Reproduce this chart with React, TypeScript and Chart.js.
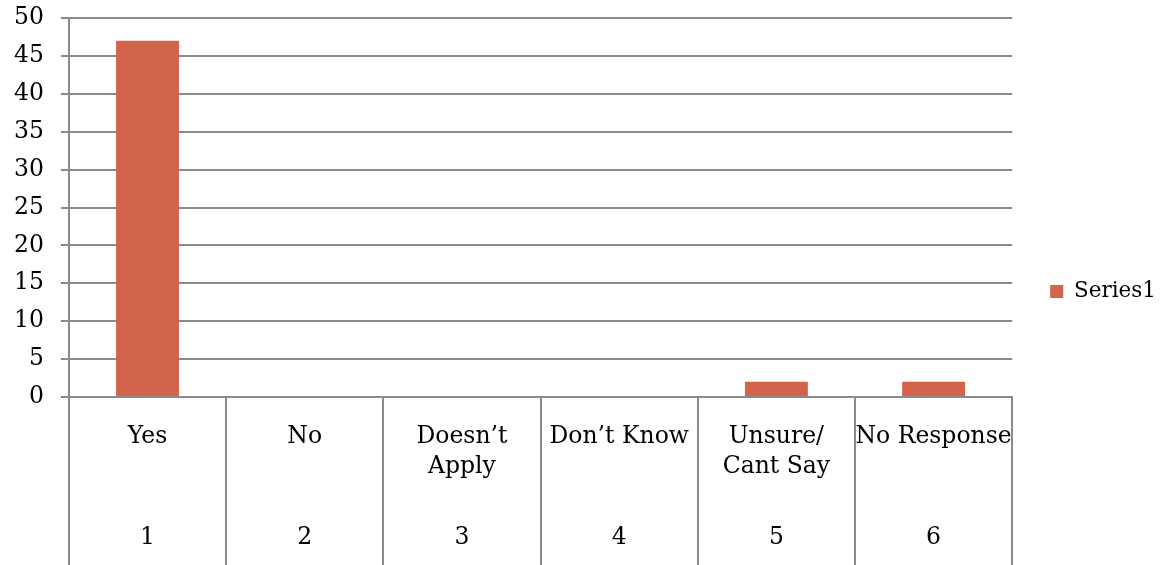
import React, { useEffect, useRef } from "react";
import { Chart, registerables } from "chart.js";

Chart.register(...registerables);

const categoryLines: string[][] = [
  ["Yes"],
  ["No"],
  ["Doesn’t", "Apply"],
  ["Don’t Know"],
  ["Unsure/", "Cant Say"],
  ["No Response"],
];
const categoryNumbers: string[] = ["1", "2", "3", "4", "5", "6"];
const series1: number[] = [47, 0, 0, 0, 2, 2];
const seriesName = "Series1";

const FONT = "'DejaVu Serif', serif";
const FSIZE = 23.5;
const GRID = "#8a8a8a";
const BAR = "rgb(209,100,74)";

const twoLevelLabels = {
  id: "twoLevelLabels",
  afterDraw(chart: any) {
    const x = chart.scales.x;
    const ctx = chart.ctx;
    const top = chart.chartArea.bottom;
    ctx.save();
    ctx.fillStyle = "#000";
    ctx.font = `${FSIZE}px ${FONT}`;
    ctx.textAlign = "center";
    ctx.textBaseline = "middle";
    categoryLines.forEach((lines, i) => {
      const px = x.getPixelForValue(i);
      lines.forEach((ln, j) => {
        ctx.fillText(ln, px, top + 40 + j * 30);
      });
      ctx.fillText(categoryNumbers[i], px, top + 141);
    });
    ctx.restore();
  },
};

export default function App() {
  const ref = useRef<HTMLCanvasElement>(null);
  useEffect(() => {
    if (!ref.current) return;
    const chart = new Chart(ref.current, {
      type: "bar",
      data: {
        labels: categoryLines.map((l) => l.join(" ")),
        datasets: [
          {
            label: seriesName,
            data: series1,
            backgroundColor: BAR,
            borderWidth: 0,
            barPercentage: 0.4,
            categoryPercentage: 1,
          },
        ],
      },
      options: {
        animation: false,
        responsive: true,
        maintainAspectRatio: false,
        layout: { padding: { left: -3, right: 3, top: 18, bottom: 0 } },
        plugins: {
          tooltip: { enabled: false },
          legend: {
            position: "right",
            align: "center",
            labels: {
              color: "#000",
              font: { family: FONT, size: 21.5 },
              boxWidth: 13,
              boxHeight: 13,
              padding: 38,
            },
          },
        },
        scales: {
          x: {
            offset: true,
            grid: {
              display: true,
              drawOnChartArea: false,
              drawTicks: true,
              tickLength: 168,
              color: GRID,
              lineWidth: 2,
              offset: true,
            },
            border: { display: true, color: GRID, width: 2 },
            ticks: { display: false },
          },
          y: {
            min: 0,
            max: 50,
            ticks: {
              stepSize: 5,
              color: "#000",
              font: { family: FONT, size: FSIZE, lineHeight: 0.02 },
              padding: 17,
            },
            grid: {
              color: GRID,
              lineWidth: 2,
              tickLength: 8,
            },
            border: { display: true, color: GRID, width: 2 },
          },
        },
      },
      plugins: [twoLevelLabels],
    });
    return () => chart.destroy();
  }, []);
  return (
    <div style={{ position: "fixed", left: 0, top: 0, width: 1169, height: 565, background: "#fff" }}>
      <canvas ref={ref} />
    </div>
  );
}
